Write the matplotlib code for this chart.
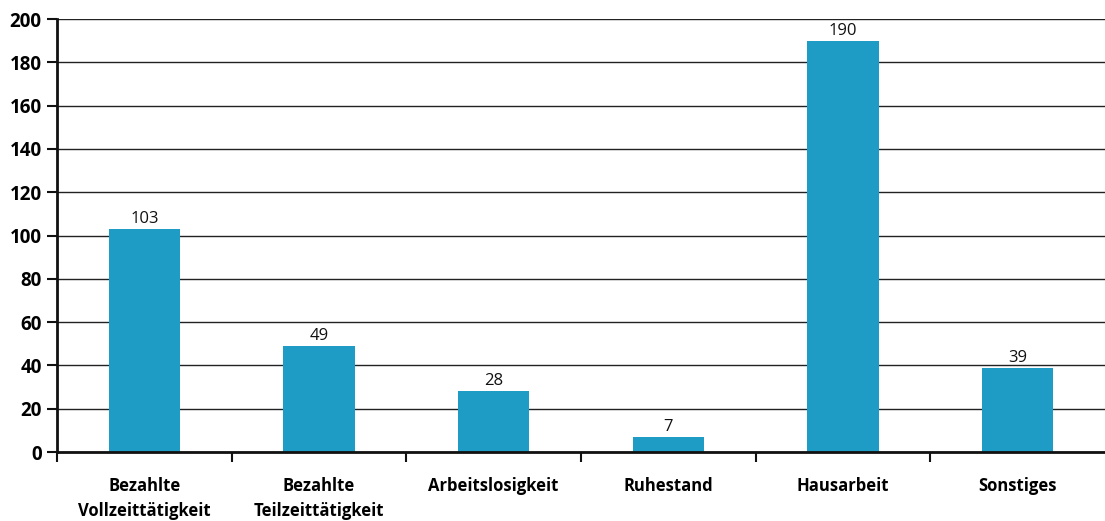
import matplotlib.pyplot as plt
from matplotlib.ticker import FixedLocator

categories = ['Bezahlte\nVollzeittätigkeit', 'Bezahlte\nTeilzeittätigkeit', 'Arbeitslosigkeit',
              'Ruhestand', 'Hausarbeit', 'Sonstiges']
values = [103, 49, 28, 7, 190, 39]
y_ticks = list(range(0, 201, 20))

plt.rcParams['font.family'] = ['Open Sans', 'DejaVu Sans']

fig = plt.figure(figsize=(11.05, 5.21), dpi=100)
ax = fig.add_axes([0.0516, 0.1324, 0.9484, 0.8311])

x = list(range(len(categories)))
bars = ax.bar(x, values, width=0.41, color='#1f9cc6', zorder=3)
# value labels a few pixels above each bar
for b, v in zip(bars, values):
    ax.annotate(str(v), (b.get_x() + b.get_width() / 2, v), xytext=(0, 6),
                textcoords='offset pixels', ha='center', va='baseline',
                fontsize=12, color='#111111', zorder=4)

ax.set_xlim(-0.5, len(categories) - 0.5)
ax.set_ylim(0, 200)
ax.set_yticks(y_ticks)
ax.set_yticklabels([str(t) for t in y_ticks], fontsize=13.5, fontweight='bold')
ax.yaxis.grid(True, color='#222222', linewidth=1.0, zorder=0)

ax.set_xticks(x)
ax.set_xticklabels(categories, fontsize=12, fontweight='bold', linespacing=1.5)
ax.xaxis.set_minor_locator(FixedLocator([i - 0.5 for i in range(len(categories))]))
ax.tick_params(axis='x', which='major', length=0, pad=18)
ax.tick_params(axis='x', which='minor', length=7, width=1.5, direction='out', color='#111111')
ax.tick_params(axis='y', length=7, width=1.5, direction='out', color='#111111', pad=4)

for s in ['top', 'right']:
    ax.spines[s].set_visible(False)
for s in ['left', 'bottom']:
    ax.spines[s].set_linewidth(2)
    ax.spines[s].set_color('#111111')
    ax.spines[s].set_zorder(5)

fig.savefig('out.png', dpi=100)
